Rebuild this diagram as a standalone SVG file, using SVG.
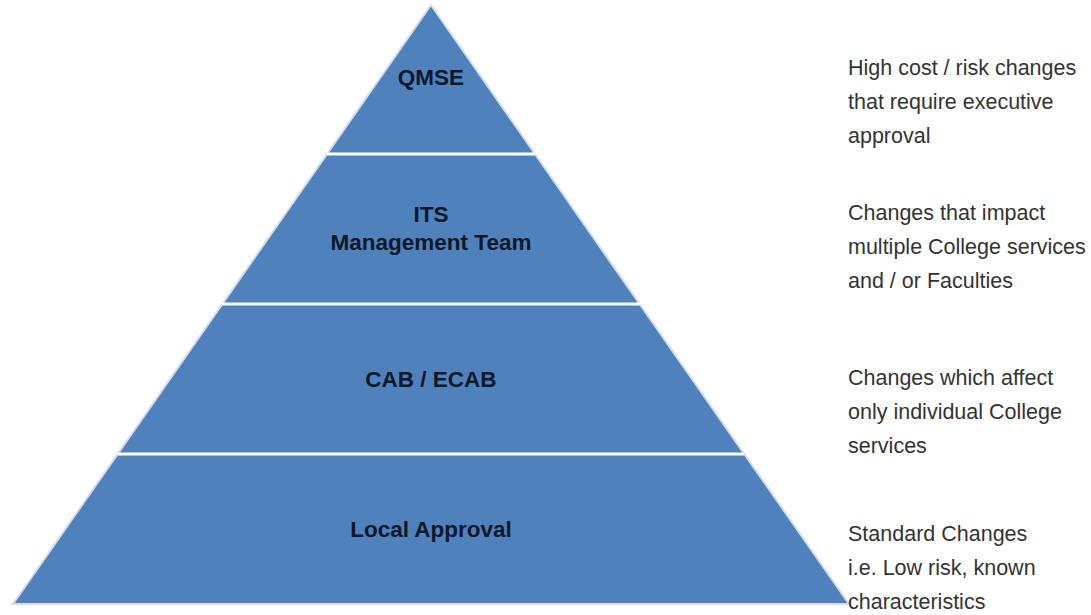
<svg xmlns="http://www.w3.org/2000/svg" width="1091" height="615" viewBox="0 0 1091 615">
  <style>
    .band { fill: #4f81bd; }
    .outline { fill: none; stroke: #d9dde3; stroke-width: 2; stroke-linejoin: miter; }
    .sep { stroke: #ffffff; stroke-width: 3; }
    .label { font-family: "Liberation Sans", Arial, sans-serif; font-weight: bold; font-size: 22.5px; fill: #0f1828; text-anchor: middle; }
    .note { font-family: "Liberation Sans", Arial, sans-serif; font-size: 21.5px; fill: #333333; }
  </style>
  <rect width="1091" height="615" fill="#ffffff"/>

  <!-- pyramid tiers, top to bottom -->
  <g id="tier-qmse">
    <polygon class="band" points="431,5 535,154 327,154"/>
    <text class="label" x="431" y="85">QMSE</text>
  </g>
  <g id="tier-its">
    <polygon class="band" points="327,154 535,154 640,304 222,304"/>
    <text class="label" x="431" y="222">ITS</text>
    <text class="label" x="431" y="250">Management Team</text>
  </g>
  <g id="tier-cab">
    <polygon class="band" points="222,304 640,304 744,454 118,454"/>
    <text class="label" x="431" y="387">CAB / ECAB</text>
  </g>
  <g id="tier-local">
    <polygon class="band" points="118,454 744,454 849,604 13,604"/>
    <text class="label" x="431" y="537">Local Approval</text>
  </g>

  <!-- outer edge and tier separators -->
  <g id="connectors">
    <polygon class="outline" points="431,5 849,604 13,604"/>
    <line class="sep" x1="327" y1="154" x2="535" y2="154"/>
    <line class="sep" x1="222" y1="304" x2="640" y2="304"/>
    <line class="sep" x1="118" y1="454" x2="744" y2="454"/>
  </g>

  <!-- descriptions beside each tier -->
  <g id="note-qmse" class="note">
    <text x="848" y="75">High cost / risk changes</text>
    <text x="848" y="109">that require executive</text>
    <text x="848" y="143">approval</text>
  </g>
  <g id="note-its" class="note">
    <text x="848" y="220">Changes that impact</text>
    <text x="848" y="254">multiple College services</text>
    <text x="848" y="288">and / or Faculties</text>
  </g>
  <g id="note-cab" class="note">
    <text x="848" y="385">Changes which affect</text>
    <text x="848" y="419">only individual College</text>
    <text x="848" y="453">services</text>
  </g>
  <g id="note-local" class="note">
    <text x="848" y="541">Standard Changes</text>
    <text x="848" y="575">i.e. Low risk, known</text>
    <text x="848" y="609">characteristics</text>
  </g>
</svg>
